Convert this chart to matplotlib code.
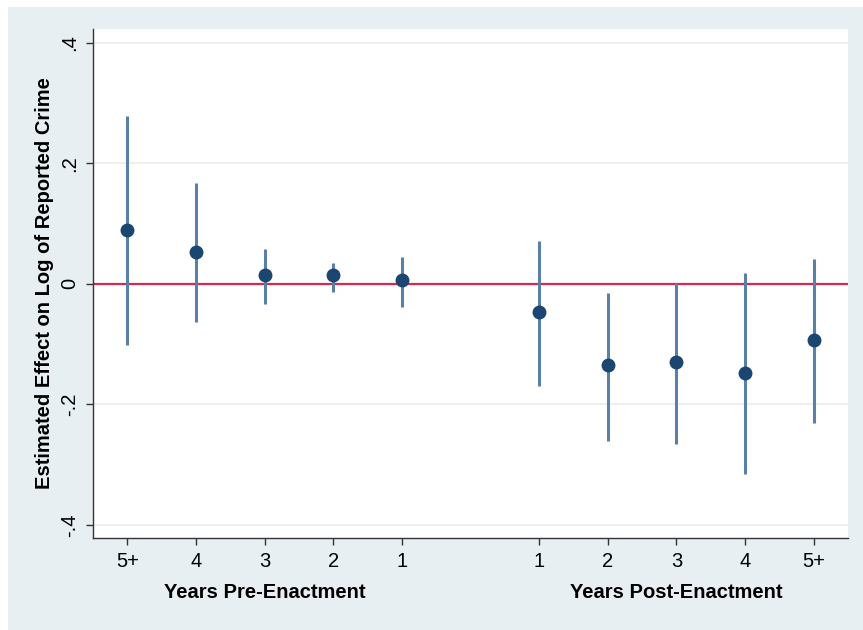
import numpy as np
import matplotlib.pyplot as plt
from matplotlib.patches import Rectangle
from matplotlib.transforms import blended_transform_factory

plt.rcParams['font.family'] = ['Liberation Sans', 'DejaVu Sans']

# event-study estimates
pre_labels = ['5+', '4', '3', '2', '1']
pre_coef = [0.090, 0.053, 0.014, 0.014, 0.007]
pre_lo = [-0.102, -0.064, -0.034, -0.013, -0.038]
pre_hi = [0.278, 0.167, 0.058, 0.035, 0.045]

post_labels = ['1', '2', '3', '4', '5+']
post_coef = [-0.047, -0.135, -0.130, -0.147, -0.093]
post_lo = [-0.169, -0.260, -0.266, -0.316, -0.230]
post_hi = [0.072, -0.015, 0.001, 0.018, 0.042]

yticks = [-0.4, -0.2, 0, 0.2, 0.4]
ytick_labels = ['-.4', '-.2', '0', '.2', '.4']

pre_x = np.arange(5)
post_x = np.arange(6, 11)
x = np.concatenate([pre_x, post_x])
coef = np.array(pre_coef + post_coef)
lo = np.array(pre_lo + post_lo)
hi = np.array(pre_hi + post_hi)

fig = plt.figure(figsize=(8.63, 6.30), dpi=100)
fig.patch.set_facecolor('white')
fig.patches.append(Rectangle((8 / 863, 0), 1, 1 - 7 / 630, transform=fig.transFigure,
                             facecolor='#e8eff2', edgecolor='none', zorder=-10))

ax = fig.add_axes([93 / 863, 1 - 538 / 630, (848 - 93) / 863, (538 - 29) / 630])
ax.set_facecolor('white')

for yv in yticks:
    ax.axhline(yv, color='#e6eef1', lw=1.2, zorder=0)
ax.axhline(0, color='#d6294f', lw=1.6, zorder=1)

ax.vlines(x, lo, hi, color='#5a80a5', lw=2.2, zorder=2)
ax.plot(x, coef, 'o', color='#1a466f', ms=9, zorder=3)

ax.set_xlim(-0.5, 10.5)
ax.set_ylim(-0.4216, 0.423)
ax.set_xticks(x)
ax.set_xticklabels(pre_labels + post_labels, fontsize=14.5)
ax.set_yticks(yticks)
ax.set_yticklabels(ytick_labels, fontsize=14.5, rotation=90, va='center')

for s in ['top', 'right']:
    ax.spines[s].set_visible(False)
for s in ['left', 'bottom']:
    ax.spines[s].set_color('#333333')
    ax.spines[s].set_linewidth(1.0)
ax.tick_params(axis='both', direction='out', length=5, width=1, color='#333333', pad=5)

ax.set_ylabel('Estimated Effect on Log of Reported Crime', fontsize=14.5,
              fontweight='bold')
ax.yaxis.set_label_coords(-(93 - 54) / 755, 0.5)

trans = blended_transform_factory(ax.transData, fig.transFigure)
ax.text(2, 1 - 593 / 630, 'Years Pre-Enactment', transform=trans, ha='center',
        va='center', fontsize=14.5, fontweight='bold')
ax.text(8, 1 - 593 / 630, 'Years Post-Enactment', transform=trans, ha='center',
        va='center', fontsize=14.5, fontweight='bold')

fig.savefig('out.png', dpi=100, facecolor=fig.get_facecolor())
